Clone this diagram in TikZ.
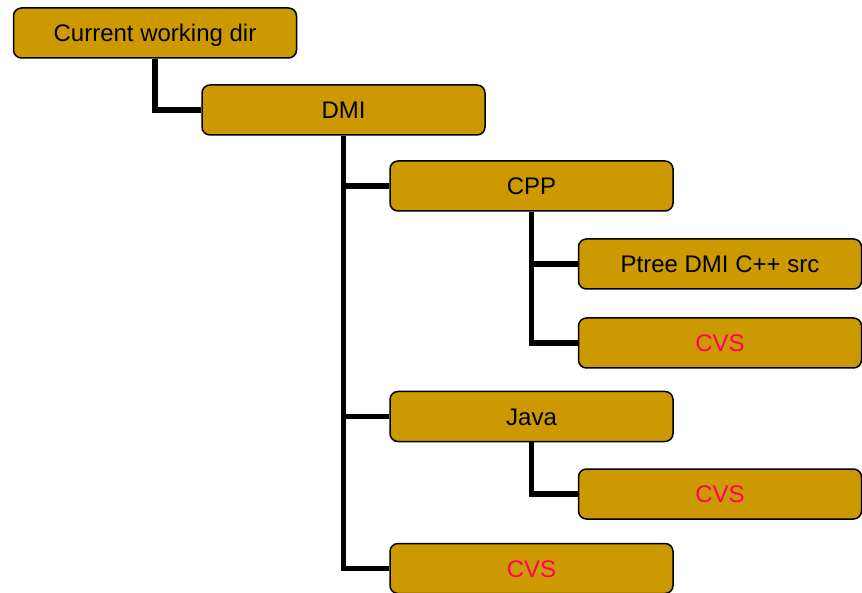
\documentclass[tikz,border=0pt]{standalone}
\usepackage{fontspec}
\setmainfont{Liberation Sans}
\definecolor{folder}{HTML}{CC9900}
\definecolor{cvsred}{HTML}{FF0066}
\begin{document}
\begin{tikzpicture}[x=1pt,y=-1pt,
  dirbox/.style={draw=black, line width=1.5pt, fill=folder, rounded corners=8pt,
    minimum width=283pt, minimum height=50pt, inner sep=0pt,
    text height=17.2pt, text depth=0pt,
    font=\fontsize{24}{28}\selectfont, text=black},
  cvsbox/.style={dirbox, text=cvsred},
  link/.style={line width=5.5pt, line join=miter}]
\useasboundingbox (0,0) rectangle (862,593);
% directory boxes
\node[dirbox] (cwd)   at (155,33)    {Current working dir};
\node[dirbox] (dmi)   at (343.5,110) {DMI};
\node[dirbox] (cpp)   at (531.5,186) {CPP};
\node[dirbox] (src)   at (720,264)   {Ptree DMI C++ src};
\node[cvsbox] (cvsa)  at (720,343)   {CVS};
\node[dirbox] (java)  at (531.5,416.5) {Java};
\node[cvsbox] (cvsb)  at (720,494)   {CVS};
\node[cvsbox] (cvsc)  at (531.5,568.5) {CVS};
% tree connectors
\draw[link] (cwd.south) |- (dmi.west);
\draw[link] (dmi.south) |- (cpp.west);
\draw[link] (dmi.south) |- (java.west);
\draw[link] (dmi.south) |- (cvsc.west);
\draw[link] (cpp.south) |- (src.west);
\draw[link] (cpp.south) |- (cvsa.west);
\draw[link] (java.south) |- (cvsb.west);
\end{tikzpicture}
\end{document}
